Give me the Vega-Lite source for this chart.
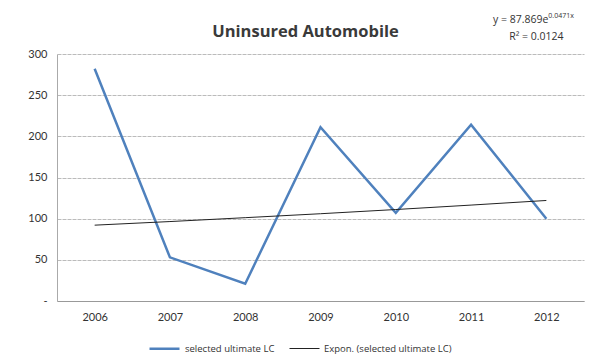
{
  "$schema": "https://vega.github.io/schema/vega-lite/v6.json",
  "width": 527,
  "height": 247,
  "autosize": {"type": "none"},
  "padding": {"left": 57, "top": 54, "right": 11, "bottom": 55},
  "background": "white",
  "config": {
    "font": "Lato",
    "view": {"stroke": null}
  },
  "data": {
    "values": [
      {"year": "2006", "series": "selected ultimate LC", "value": 282},
      {"year": "2007", "series": "selected ultimate LC", "value": 53},
      {"year": "2008", "series": "selected ultimate LC", "value": 21},
      {"year": "2009", "series": "selected ultimate LC", "value": 211},
      {"year": "2010", "series": "selected ultimate LC", "value": 107},
      {"year": "2011", "series": "selected ultimate LC", "value": 214},
      {"year": "2012", "series": "selected ultimate LC", "value": 100},
      {"year": "2006", "series": "Expon. (selected ultimate LC)", "value": 92.1},
      {"year": "2007", "series": "Expon. (selected ultimate LC)", "value": 96.5},
      {"year": "2008", "series": "Expon. (selected ultimate LC)", "value": 101.2},
      {"year": "2009", "series": "Expon. (selected ultimate LC)", "value": 106.0},
      {"year": "2010", "series": "Expon. (selected ultimate LC)", "value": 111.1},
      {"year": "2011", "series": "Expon. (selected ultimate LC)", "value": 116.5},
      {"year": "2012", "series": "Expon. (selected ultimate LC)", "value": 122.1}
    ]
  },
  "layer": [
    {
      "mark": {"type": "line", "clip": false},
      "encoding": {
        "x": {
          "field": "year",
          "type": "ordinal",
          "scale": {"paddingInner": 0, "paddingOuter": 0.5},
          "axis": {
            "title": null,
            "labelAngle": 0,
            "labelFontSize": 11,
            "labelColor": "#333333",
            "labelPadding": 10,
            "ticks": false,
            "domainColor": "#999999",
            "grid": false
          }
        },
        "y": {
          "field": "value",
          "type": "quantitative",
          "scale": {"domain": [0, 300], "nice": false},
          "axis": {
            "title": null,
            "values": [0, 50, 100, 150, 200, 250, 300],
            "labelExpr": "datum.value == 0 ? '-' : datum.label",
            "labelFontSize": 11,
            "labelColor": "#333333",
            "labelPadding": 10,
            "ticks": false,
            "domainColor": "#aaaaaa",
            "gridColor": "#bbbbbb",
            "gridDash": [4, 1]
          }
        },
        "color": {
          "field": "series",
          "type": "nominal",
          "sort": ["selected ultimate LC", "Expon. (selected ultimate LC)"],
          "scale": {
            "domain": ["selected ultimate LC", "Expon. (selected ultimate LC)"],
            "range": ["#4f81bd", "#222222"]
          },
          "legend": {
            "title": null,
            "orient": "none",
            "legendX": 91,
            "legendY": 278,
            "direction": "horizontal",
            "symbolType": "stroke",
            "symbolSize": 900,
            "labelFont": "Open Sans",
            "labelFontSize": 9.5,
            "labelColor": "#333333",
            "columnPadding": 12
          }
        },
        "strokeWidth": {
          "field": "series",
          "type": "nominal",
          "scale": {
            "domain": ["selected ultimate LC", "Expon. (selected ultimate LC)"],
            "range": [2.5, 1]
          },
          "legend": {
            "title": null,
            "orient": "none",
            "legendX": 91,
            "legendY": 278,
            "direction": "horizontal",
            "symbolType": "stroke",
            "symbolSize": 900,
            "labelFont": "Open Sans",
            "labelFontSize": 9.5,
            "labelColor": "#333333",
            "columnPadding": 12
          }
        }
      }
    },
    {
      "data": {"values": [{}]},
      "mark": {"type": "text", "font": "Open Sans", "fontSize": 16.5, "fontWeight": "bold", "color": "#3a3a3a", "align": "center", "baseline": "middle", "dx": -15, "clip": false},
      "encoding": {
        "x": {"datum": "2009"},
        "y": {"datum": 327},
        "text": {"value": "Uninsured Automobile"}
      }
    },
    {
      "data": {"values": [{}]},
      "mark": {"type": "text", "font": "Open Sans", "fontSize": 10.5, "color": "#333333", "align": "right", "dx": 2, "clip": false},
      "encoding": {
        "x": {"datum": "2012"},
        "y": {"datum": 341},
        "text": {"value": "y = 87.869e"}
      }
    },
    {
      "data": {"values": [{}]},
      "mark": {"type": "text", "font": "Open Sans", "fontSize": 7, "color": "#333333", "align": "left", "dx": 2, "dy": -4, "clip": false},
      "encoding": {
        "x": {"datum": "2012"},
        "y": {"datum": 341},
        "text": {"value": "0.0471x"}
      }
    },
    {
      "data": {"values": [{}]},
      "mark": {"type": "text", "font": "Open Sans", "fontSize": 10.5, "color": "#333333", "align": "center", "dx": -10, "clip": false},
      "encoding": {
        "x": {"datum": "2012"},
        "y": {"datum": 321},
        "text": {"value": "R² = 0.0124"}
      }
    }
  ]
}
